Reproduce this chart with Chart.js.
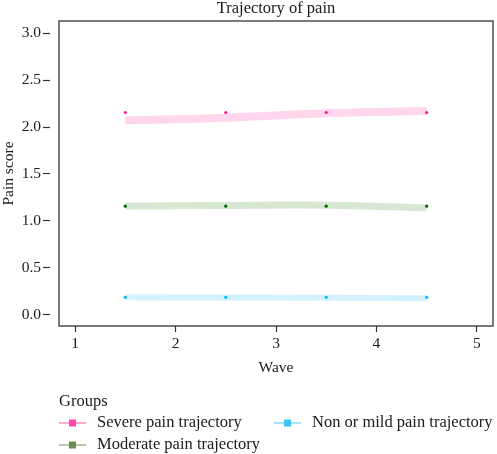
<!DOCTYPE html>
<html>
<head>
<meta charset="utf-8">
<script src="https://cdn.jsdelivr.net/npm/chart.js@4/dist/chart.umd.min.js"></script>
<style>
  html, body { margin: 0; padding: 0; background: #fff; }
  #wrap { width: 497px; height: 454px; }
</style>
</head>
<body>
<div id="wrap"><canvas id="painChart"></canvas></div>
<script>
// data
const waves = [1.5, 2.5, 3.5, 4.5];
const groups = ['Severe pain trajectory', 'Moderate pain trajectory', 'Non or mild pain trajectory'];
const severeMeans = [2.155, 2.155, 2.155, 2.155];
const moderateMeans = [1.157, 1.157, 1.157, 1.157];
const mildMeans = [0.186, 0.186, 0.186, 0.186];
const severeFit = [2.07, 2.10, 2.147, 2.17];
const moderateFit = [1.157, 1.165, 1.168, 1.14];
const mildFit = [0.186, 0.184, 0.182, 0.176];
const xTicks = [1, 2, 3, 4, 5];
const yTicks = [0, 0.5, 1.0, 1.5, 2.0, 2.5, 3.0];

const FONT = '"Liberation Serif", "Times New Roman", serif';
const INK = '#1a1a1a';

const pts = (ys) => waves.map((w, i) => ({ x: w, y: ys[i] }));

function fitLine(label, ys, color, width) {
    return {
        label: label,
        data: pts(ys),
        borderColor: color,
        borderWidth: width,
        borderCapStyle: 'butt',
        tension: 0.4,
        pointRadius: 0,
        fill: false,
        order: 2
    };
}

function meanDots(label, ys, color) {
    return {
        label: label,
        data: pts(ys),
        showLine: false,
        pointRadius: 1.6,
        pointBorderWidth: 0,
        pointBackgroundColor: color,
        order: 1
    };
}

// frame around the plot area
const framePlugin = {
    id: 'frame',
    afterDatasetsDraw(chart) {
        const { ctx, chartArea: a } = chart;
        ctx.save();
        ctx.strokeStyle = '#333';
        ctx.lineWidth = 1.3;
        ctx.strokeRect(a.left, a.top, a.right - a.left, a.bottom - a.top);
        ctx.restore();
    }
};

// ggplot-like legend under the plot
const legendPlugin = {
    id: 'groupsLegend',
    afterDraw(chart) {
        const ctx = chart.ctx;
        const items = [
            { text: groups[0], line: '#ff6fb8', box: '#ff4aa6', x: 59, y: 423 },
            { text: groups[1], line: '#8aa676', box: '#6c8c55', x: 59, y: 445 },
            { text: groups[2], line: '#74d2f6', box: '#3cc2f4', x: 274, y: 423 }
        ];
        ctx.save();
        ctx.font = '16.5px ' + FONT;
        ctx.fillStyle = INK;
        ctx.textBaseline = 'middle';
        ctx.fillText('Groups', 59, 402);
        items.forEach(it => {
            ctx.strokeStyle = it.line;
            ctx.lineWidth = 1.2;
            ctx.beginPath();
            ctx.moveTo(it.x, it.y);
            ctx.lineTo(it.x + 27, it.y);
            ctx.stroke();
            ctx.fillStyle = it.box;
            ctx.fillRect(it.x + 10, it.y - 3.5, 7, 7);
            ctx.fillStyle = INK;
            ctx.fillText(it.text, it.x + 38, it.y);
        });
        ctx.restore();
    }
};

new Chart(document.getElementById('painChart'), {
    type: 'line',
    data: {
        datasets: [
            fitLine(groups[0] + ' fit', severeFit, '#ffd6ec', 8),
            fitLine(groups[1] + ' fit', moderateFit, '#d6e7d2', 7),
            fitLine(groups[2] + ' fit', mildFit, '#d3f2fe', 6),
            meanDots(groups[0], severeMeans, '#ff1493'),
            meanDots(groups[1], moderateMeans, '#006400'),
            meanDots(groups[2], mildMeans, '#00bfff')
        ]
    },
    options: {
        responsive: true,
        maintainAspectRatio: false,
        animation: false,
        layout: { padding: { left: 0, right: 1, top: 0, bottom: 76 } },
        plugins: {
            legend: { display: false },
            tooltip: { enabled: false },
            title: {
                display: true,
                text: 'Trajectory of pain',
                fullSize: false,
                color: INK,
                font: { family: FONT, size: 16.5, weight: 'normal', lineHeight: 1 },
                padding: { top: 0, bottom: 4.5 }
            }
        },
        scales: {
            x: {
                type: 'linear',
                min: 0.84,
                max: 5.16,
                afterBuildTicks: (scale) => { scale.ticks = xTicks.map(v => ({ value: v })); },
                afterFit: (scale) => { scale.height = 52; },
                border: { display: false },
                grid: { drawOnChartArea: false, drawTicks: true, tickLength: 6, color: '#333', tickWidth: 1.2 },
                ticks: { color: INK, font: { family: FONT, size: 15.5 }, padding: 3 },
                title: {
                    display: true,
                    text: 'Wave',
                    color: INK,
                    font: { family: FONT, size: 15.5, lineHeight: 1.2 },
                    padding: { top: 0, bottom: 1 }
                }
            },
            y: {
                type: 'linear',
                min: -0.12,
                max: 3.13,
                afterBuildTicks: (scale) => { scale.ticks = yTicks.map(v => ({ value: v })); },
                afterFit: (scale) => { scale.width = 59; },
                border: { display: false },
                grid: {
                    drawOnChartArea: false, drawTicks: true, tickLength: 16,
                    color: '#333', tickWidth: 1.2, tickBorderDash: [7, 40]
                },
                ticks: {
                    color: INK,
                    font: { family: FONT, size: 15.5 },
                    padding: 2,
                    callback: (v) => Number(v).toFixed(1)
                },
                title: {
                    display: true,
                    text: 'Pain score',
                    color: INK,
                    font: { family: FONT, size: 15.5, lineHeight: 1.2 },
                    padding: { top: 0, bottom: 0 }
                }
            }
        }
    },
    plugins: [framePlugin, legendPlugin]
});
</script>
</body>
</html>
